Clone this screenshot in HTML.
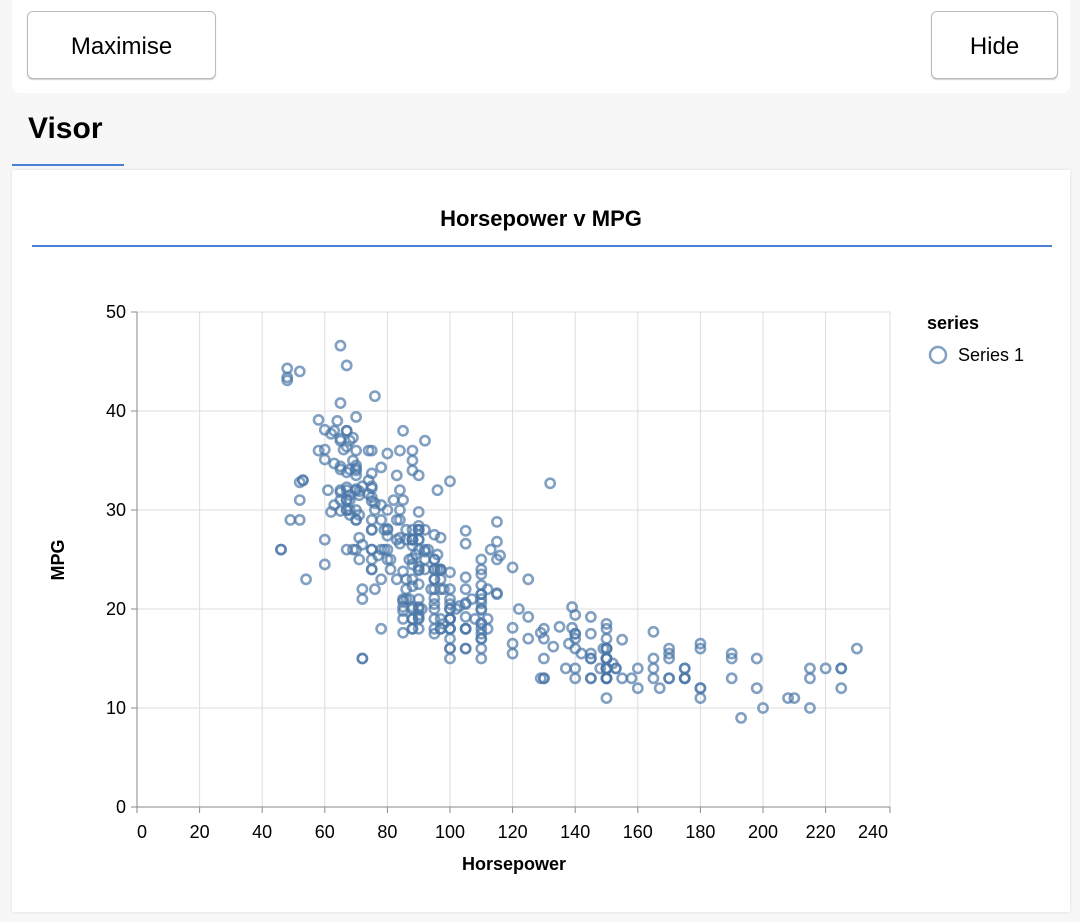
<!DOCTYPE html>
<html><head><meta charset="utf-8"><style>
body{margin:0;width:1080px;height:922px;background:#f7f7f7;font-family:"Liberation Sans",sans-serif;position:relative;overflow:hidden}
.top{position:absolute;left:12px;top:0;width:1058px;height:93px;background:#fff;border-radius:0 0 8px 8px}
.btn{position:absolute;top:11px;height:66px;border:1px solid #bbb;border-radius:6px;background:#fff;font-size:24px;line-height:70px;text-align:center;box-shadow:0 1px 1px #ccc}
.visor{position:absolute;left:28px;top:112px;font-size:30px;font-weight:bold}
.ul{position:absolute;left:12px;top:164px;width:112px;height:2px;background:#4a7fd4}
.card{position:absolute;left:12px;top:170px;width:1058px;height:742px;background:#fff;box-shadow:0 0 3px #ddd}
svg{position:absolute;left:0;top:0}
</style></head><body>
<div class="top"></div>
<div class="btn" style="left:27px;width:187px">Maximise</div>
<div class="btn" style="left:931px;width:125px">Hide</div>
<div class="visor">Visor</div>
<div class="ul"></div>
<div class="card"></div>
<svg id="s" width="1080" height="922" font-family="Liberation Sans, sans-serif">
<text x="541" y="226" text-anchor="middle" font-size="22" font-weight="bold">Horsepower v MPG</text>
<rect x="32" y="245" width="1020" height="2" fill="#4a7fd4"/>
<g id="grid" stroke="#ddd" stroke-width="1"></g>
<g id="pts" fill="none" stroke="#4c78a8" stroke-opacity="0.7" stroke-width="2.6"></g>
<line x1="137" y1="312" x2="137" y2="807" stroke="#888"/>
<line x1="137" y1="807" x2="890" y2="807" stroke="#888"/>
<g id="lab" font-size="18"></g>
<text x="514" y="870" text-anchor="middle" font-size="18" font-weight="bold">Horsepower</text>
<text transform="translate(64,560) rotate(-90)" text-anchor="middle" font-size="18" font-weight="bold">MPG</text>
<text x="927" y="329" font-size="18" font-weight="bold">series</text>
<circle cx="938" cy="355" r="8" fill="none" stroke="#4c78a8" stroke-opacity="0.7" stroke-width="2.5"/>
<text x="958" y="361" font-size="18">Series 1</text>
</svg>
<script>
var d="18,130;15,165;18,150;16,150;17,140;15,198;14,220;14,215;14,225;15,190;15,170;14,160;15,150;14,225;24,95;22,95;18,97;21,85;27,88;26,46;25,87;24,90;25,95;26,113;21,90;10,215;10,200;11,210;9,193;27,88;28,90;25,95;19,100;16,105;17,100;19,88;18,100;14,165;14,175;14,153;14,150;12,180;13,170;13,175;18,110;22,72;19,100;18,88;23,86;28,90;30,70;30,76;31,65;35,69;27,60;26,70;24,95;25,80;23,54;20,90;21,86;13,165;14,175;15,150;14,153;17,150;11,208;13,155;12,160;13,190;19,97;15,150;13,130;13,140;14,150;18,112;22,76;21,87;26,69;22,86;28,92;23,97;28,80;27,88;13,175;14,150;13,145;14,137;15,150;12,198;13,150;13,158;14,150;13,215;12,225;13,175;18,105;16,100;18,100;18,88;23,95;26,46;11,150;12,167;13,170;12,180;18,100;20,88;21,72;22,94;18,90;19,85;21,107;26,90;15,145;16,230;29,49;24,75;20,91;19,112;15,150;24,110;20,122;11,180;20,95;21,100;19,100;15,100;31,67;26,80;32,65;25,75;16,100;16,110;18,105;16,140;13,150;14,150;14,140;14,150;29,83;26,67;26,78;31,52;32,61;28,75;24,75;26,75;24,97;26,93;31,67;19,95;18,105;15,72;15,72;16,170;15,145;16,150;14,148;17,110;16,105;15,110;18,95;21,110;20,110;13,129;29,75;23,83;20,100;23,78;24,96;25,71;24,97;18,97;29,70;19,90;23,95;23,88;22,98;25,115;33,53;28,86;25,81;25,92;26,79;27,83;17.5,140;16,150;15.5,120;14.5,152;22,100;22,105;24,81;22.5,90;29,52;24.5,60;29,70;33,53;20,100;18,78;18.5,110;17.5,95;29.5,71;32,70;28,75;26.5,72;20,102;13,150;19,88;19,108;16.5,120;16.5,180;13,145;13,130;13,150;31.5,68;30,80;36,58;25.5,96;33.5,70;17.5,145;17,110;15.5,145;15,130;17.5,110;20.5,105;19,100;18.5,98;16,180;15.5,170;15.5,190;16,149;29,78;24.5,88;26,75;25.5,89;30.5,63;33.5,83;30,67;30.5,78;22,97;21.5,110;21.5,110;43.1,48;36.1,66;32.8,52;39.4,70;36.1,60;19.9,110;19.4,140;20.2,139;19.2,105;20.5,95;20.2,85;25.1,88;20.5,100;19.4,90;20.6,105;20.8,85;18.6,110;18.1,120;19.2,145;17.7,165;18.1,139;17.5,140;30,68;27.5,95;27.2,97;30.9,75;21.1,95;23.2,105;23.8,85;23.9,97;20.3,103;17,125;21.6,115;16.2,133;31.5,71;29.5,68;21.5,115;19.8,85;22.3,88;20.2,90;20.6,110;17,130;17.6,129;16.5,138;18.2,135;16.9,155;15.5,142;19.2,125;18.5,150;31.9,71;34.1,65;35.7,80;27.4,80;25.4,77;23,125;27.2,71;23.9,90;34.2,70;34.5,70;31.8,65;37.3,69;28.4,90;28.8,115;26.8,115;33.5,90;41.5,76;38.1,60;32.1,70;37.2,65;28,90;26.4,88;24.3,90;19.1,90;34.3,78;29.8,90;31.3,75;37,92;32.2,75;46.6,65;27.9,105;40.8,65;44.3,48;43.4,48;36.4,67;30,67;44.6,67;33.8,67;29.8,62;32.7,132;23.7,100;35,88;32.4,72;27.2,84;26.6,84;25.8,92;23.5,110;30,84;39.1,58;39,64;35.1,60;32.3,67;37,65;37.7,62;34.1,68;34.7,63;34.4,65;29.9,65;33,74;33.7,75;32.4,75;32.9,100;31.6,74;28.1,80;30.7,76;25.4,116;24.2,120;22.4,110;26.6,105;20.2,88;17.6,85;28,88;27,88;34,88;31,85;29,84;27,90;24,92;36,74;37,68;31,68;38,63;36,70;36,88;36,75;34,70;38,67;32,67;38,67;25,110;38,85;26,92;22,112;32,96;36,84;27,90;27,86;44,52;32,84;28,79;31,82";
var ns="http://www.w3.org/2000/svg";
function X(h){return 137+h*3.13}function Y(m){return 807-m*9.9}
var g=document.getElementById("grid"),p=document.getElementById("pts"),l=document.getElementById("lab");
function el(t,a,par){var e=document.createElementNS(ns,t);for(var k in a)e.setAttribute(k,a[k]);par.appendChild(e);return e}
for(var v=20;v<=220;v+=20)el("line",{x1:X(v),x2:X(v),y1:312,y2:807},g);
for(var v=10;v<=50;v+=10)el("line",{x1:137,x2:890,y1:Y(v),y2:Y(v)},g);
el("line",{x1:890,x2:890,y1:312,y2:807},g);
for(var v=0;v<=240;v+=20){var xx=v==240?890:X(v);el("line",{x1:xx,x2:xx,y1:807,y2:813,stroke:"#888"},l);var t=el("text",{x:v==0?142:(v==240?873:(v==220?X(v)-5:X(v))),y:838,"text-anchor":"middle"},l);t.textContent=v;}
for(var v=0;v<=50;v+=10){el("line",{x1:131,x2:137,y1:Y(v),y2:Y(v),stroke:"#888"},l);var t=el("text",{x:126,y:Y(v)+6,"text-anchor":"end"},l);t.textContent=v;}
d.split(";").forEach(function(s){var a=s.split(",");el("circle",{cx:X(+a[1]),cy:Y(+a[0]),r:4.6},p)});
</script>
</body></html>
